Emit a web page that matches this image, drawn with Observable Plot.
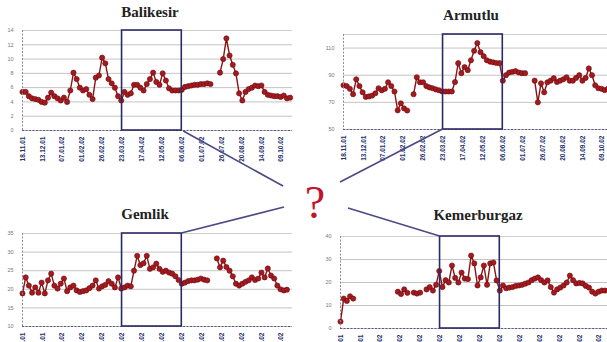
<!DOCTYPE html>
<html><head><meta charset="utf-8">
<script src="https://cdn.jsdelivr.net/npm/d3@7"></script>
<script src="https://cdn.jsdelivr.net/npm/@observablehq/plot@0.6"></script>
<style>
html,body{margin:0;padding:0;background:#fff;}
#wrap{position:relative;width:607px;height:342px;overflow:hidden;background:#fff;}
.panel{position:absolute;}
#overlay{position:absolute;left:0;top:0;}
</style></head><body><div id="wrap"></div>
<script>
// ---- data ----
const dateLabels = ["18.11.01","13.12.01","07.01.02","01.02.02","26.02.02","23.03.02","17.04.02","12.05.02","06.06.02","01.07.02","26.07.02","20.08.02","14.09.02","09.10.02"];
const startLabel = "18.11.01";
const endLabel = "23.10.02";
const stepDays = 4;
const boxRange = ["23.03.02", "06.06.02"];
const stations = ["Balikesir", "Armutlu", "Gemlik", "Kemerburgaz"];

const balikesir = [5.4,5.4,4.8,4.5,4.4,4.3,4.0,3.9,4.6,5.3,
  4.8,4.5,4.2,4.6,4.0,5.6,8.1,7.2,6.0,5.6,
  5.8,5.0,4.4,7.4,7.7,10.2,9.4,7.2,6.6,6.0,
  4.8,4.2,5.4,5.0,5.2,6.4,6.4,6.0,5.6,6.5,
  7.2,8.1,6.8,6.4,8.0,7.0,5.9,5.6,5.6,5.6,
  5.7,6.1,6.2,6.3,6.4,6.4,6.5,6.5,6.6,6.5,
  null,null,8.1,10.0,12.9,10.5,9.2,8.0,5.2,4.2,
  5.4,5.8,6.0,6.3,6.2,6.3,5.4,5.0,4.9,4.8,
  4.8,4.7,4.9,4.5,4.6];
const armutlu = [82.6,82,80,76,87,82,77.4,74,74.4,75,
  76.7,80.4,78.9,80,84.8,82,78,64.1,69.3,65.6,
  64,null,76,88.5,84.8,84.8,82,81,80.4,79.5,
  78.9,78,78,78,78,85,98.9,91.5,96,93.7,
  101,108,113.7,107,104,101,100,99.5,99,98.9,
  86,90,92,92.5,93,92,91.5,91.5,null,null,
  86,70,84,77.4,84.8,86,87.8,85,86,87,
  88.5,86,86,88,90,86,88,95,90,82.6,
  80.4,80,79,80];
const gemlik = [18.9,23.2,21,19.1,20.5,19.1,21.8,18.9,22.4,24.2,
  21,20.2,21.5,22.9,19.5,20.5,21,19.7,19.3,19.5,
  19.7,20.3,21,22.4,20.2,20.8,21.2,22.2,21.5,20.5,
  23.2,20.2,20.5,21,20.8,25,29,26.5,27,29,
  25.5,25.9,26.9,25.5,24.7,25,24.5,24.2,23.5,22.5,
  21.5,21.8,22.2,22.4,22.4,22.6,22.9,22.6,22.4,null,
  null,28.3,25.9,27.7,26,25,23.5,21.5,21,21.5,
  22,22.4,23.2,22.5,22.9,24.5,23.2,25.6,23.7,22.9,
  21,20,19.7,19.9];
const kemerburgaz = [3,13,12,14,13,null,null,null,null,null,
  null,null,null,null,null,null,null,null,16,15,
  17,15.5,null,15.6,15.2,15.6,null,17,18,16.5,
  19,25,18,21,20,27.4,22,20,24.3,21.7,
  21.5,31.7,28.3,18.7,22.2,27.4,19,28.3,28.7,20.9,
  16.5,18.7,17.5,17.8,18,18.5,18.7,19,19.5,20,
  21,21.7,22.2,21,20,20.9,18,15.6,17,17.8,
  18.7,20,23,21,19.6,19.8,19.6,18.5,17.8,16,
  15.2,16,16.5,16.5,16.5];

const balikesirTicks = [0,2,4,6,8,10,12,14];
const armutluTicks = [50,70,90,110];
const gemlikTicks = [10,15,20,25,30,35];
const kemerburgazTicks = [0,10,20,30,40];

// ---- layout ----
const parse = d3.utcParse("%d.%m.%y");
const fmt = d3.utcFormat("%d.%m.%y");
const t0 = parse(startLabel), t1 = parse(endLabel);
const tickDates = dateLabels.map(parse);
const box = {x1: parse(boxRange[0]), x2: parse(boxRange[1])};

const panels = [
  {name: stations[0], values: balikesir, ticks: balikesirTicks, domain: [0, 14], left: 0, top: 20, plotH: 100, titleX: 150, titleY: 17},
  {name: stations[1], values: armutlu, ticks: armutluTicks, domain: [50, 120], left: 321, top: 24, plotH: 95, titleX: 471, titleY: 20},
  {name: stations[2], values: gemlik, ticks: gemlikTicks, domain: [10, 35], left: 0, top: 223, plotH: 93, titleX: 145, titleY: 219},
  {name: stations[3], values: kemerburgaz, ticks: kemerburgazTicks, domain: [0, 40], left: 318, top: 226, plotH: 92, titleX: 478, titleY: 220}
];

const wrap = document.getElementById("wrap");
const mT = 10, mL = 22, mR = 8, mB = 40, W = 300;

panels.forEach(p => {
  const data = p.values.map((v, i) => ({date: d3.utcDay.offset(t0, i * stepDays), value: v}));
  const pts = data.filter(d => d.value != null);
  const chart = Plot.plot({
    width: W, height: mT + p.plotH + mB,
    marginTop: mT, marginLeft: mL, marginRight: mR, marginBottom: mB,
    style: {background: "transparent", overflow: "visible"},
    x: {type: "utc", domain: [t0, t1], label: null},
    y: {domain: p.domain, label: null},
    marks: [
      Plot.gridY(p.ticks, {stroke: "#c4c4c4", strokeOpacity: 1, strokeWidth: 1}),
      Plot.ruleY([p.domain[1]], {stroke: "#d0d0d0", strokeWidth: 1}),
      Plot.line(data, {x: "date", y: "value", stroke: "#8a1414", strokeWidth: 1.4}),
      Plot.dot(pts, {x: "date", y: "value", r: 2.6, fill: "#a51a1e", stroke: "#6a0c10", strokeWidth: 0.6}),
      Plot.ruleX([t0], {stroke: "#8a8a9a", strokeWidth: 1, strokeDasharray: "2,1.5"}),
      Plot.ruleY([p.domain[0]], {stroke: "#5a5a88", strokeWidth: 1, strokeDasharray: "2,1.5"}),
      Plot.rect([box], {x1: "x1", x2: "x2", y1: () => p.domain[0], y2: () => p.domain[1], fill: "none", stroke: "#2b2a66", strokeWidth: 1.6}),
      Plot.axisX(tickDates, {tickRotate: -90, tickFormat: fmt, tickSize: 0, tickPadding: 6, fontSize: 6.5, fontWeight: "bold", fill: "#26306e", label: null, fontFamily: "Arial, 'Liberation Sans', sans-serif"}),
      Plot.axisY(p.ticks, {tickSize: 0, tickPadding: 9, fontSize: 5.5, fill: "#777", label: null, fontFamily: "Arial, 'Liberation Sans', sans-serif"})
    ]
  });
  chart.classList.add("panel");
  chart.style.left = p.left + "px";
  chart.style.top = p.top + "px";
  wrap.appendChild(chart);
  const sx = chart.scale("x"), sy = chart.scale("y");
  p.boxL = p.left + sx.apply(box.x1);
  p.boxR = p.left + sx.apply(box.x2);
  p.boxTop = p.top + sy.apply(p.domain[1]);
  p.boxBot = p.top + sy.apply(p.domain[0]);
});

// overlay: titles, connectors, question mark
const svg = d3.select(wrap).append("svg").attr("id", "overlay").attr("width", 607).attr("height", 342);
panels.forEach(p => {
  svg.append("text").attr("x", p.titleX).attr("y", p.titleY).attr("text-anchor", "middle")
    .attr("font-family", "'Liberation Serif', 'Times New Roman', serif").attr("font-weight", "bold")
    .attr("font-size", 15).attr("fill", "#222").text(p.name);
});
const hub = [
  {from: [panels[0].boxR + 2, panels[0].boxBot + 1], to: [283, 186]},
  {from: [panels[1].boxL, panels[1].boxBot], to: [340, 182]},
  {from: [panels[2].boxR, panels[2].boxTop], to: [284, 207]},
  {from: [panels[3].boxL, panels[3].boxTop], to: [348, 208]}
];
hub.forEach(h => {
  svg.append("line").attr("x1", h.from[0]).attr("y1", h.from[1]).attr("x2", h.to[0]).attr("y2", h.to[1])
    .attr("stroke", "#4a4a86").attr("stroke-width", 1.6);
});
svg.append("text").attr("x", 315).attr("y", 218).attr("text-anchor", "middle")
  .attr("font-family", "'Liberation Serif', 'Times New Roman', serif").attr("font-size", 46)
  .attr("fill", "#c0142c").text("?");
</script></body></html>
